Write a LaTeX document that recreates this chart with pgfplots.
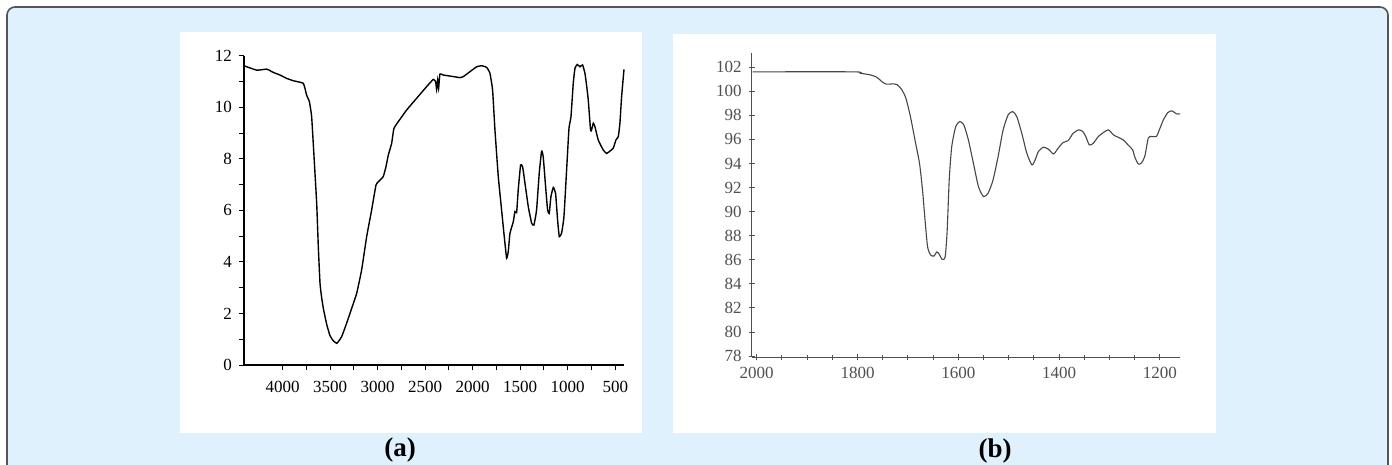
\documentclass[border=0pt]{standalone}
\usepackage{fontspec}
\setmainfont{Liberation Serif}
\usepackage{pgfplots}
\pgfplotsset{compat=1.18}

\definecolor{panelblue}{RGB}{223,241,252}
\definecolor{framegray}{RGB}{85,85,85}
\definecolor{curveb}{RGB}{70,70,70}
\definecolor{tickb}{RGB}{80,80,80}

\pgfplotstableread{
x y
4407 11.61
4274 11.44
4168 11.48
4133 11.42
4098 11.35
4028 11.25
3958 11.12
3888 11.03
3818 10.97
3783 10.93
3765 10.73
3748 10.47
3719 10.22
3695 9.63
3670 8.08
3642 6.27
3625 4.59
3607 3.17
3590 2.62
3572 2.20
3537 1.58
3502 1.14
3467 0.94
3432 0.84
3414 0.91
3379 1.10
3327 1.62
3256 2.39
3221 2.78
3169 3.69
3116 4.98
3064 6.01
3018 6.98
2993 7.11
2958 7.24
2941 7.31
2913 7.69
2888 8.15
2853 8.60
2829 9.18
2766 9.53
2696 9.89
2590 10.35
2485 10.80
2415 11.08
2390 10.99
2380 10.69
2369 11.05
2359 10.73
2345 11.29
2310 11.25
2204 11.19
2134 11.15
2099 11.19
2029 11.38
1959 11.57
1906 11.61
1854 11.55
1819 11.32
1791 10.67
1766 9.12
1731 7.31
1696 6.01
1668 4.98
1643 4.14
1626 4.40
1608 5.11
1573 5.56
1556 5.95
1538 5.91
1521 6.79
1496 7.76
1475 7.69
1450 7.05
1415 6.14
1380 5.50
1356 5.43
1328 6.01
1300 7.44
1275 8.30
1258 8.08
1233 6.92
1212 6.01
1195 5.88
1177 6.53
1152 6.89
1128 6.66
1107 5.63
1089 4.98
1065 5.11
1040 5.75
1012 7.56
987 9.18
966 9.63
942 10.93
924 11.51
900 11.66
872 11.57
844 11.64
819 11.32
802 10.86
784 10.28
760 9.12
749 9.12
731 9.38
714 9.25
679 8.73
626 8.34
591 8.21
556 8.30
521 8.41
493 8.73
468 8.86
451 9.38
433 10.41
408 11.47
}\spectrumA

\pgfplotstableread{
x y
2008 101.61
1808 101.61
1795 101.50
1775 101.36
1762 101.17
1752 100.81
1743 100.59
1729 100.61
1721 100.53
1712 100.12
1704 99.42
1695 97.90
1686 95.96
1677 94.02
1671 91.80
1666 89.31
1661 87.09
1655 86.40
1648 86.31
1643 86.65
1638 86.48
1632 86.04
1626 86.26
1622 88.47
1618 92.63
1613 95.40
1605 97.07
1597 97.48
1589 97.20
1580 95.96
1570 94.02
1560 92.08
1550 91.25
1541 91.52
1531 92.63
1521 94.57
1511 96.79
1501 98.04
1492 98.31
1484 97.90
1474 96.51
1464 94.85
1454 93.88
1448 94.24
1441 94.99
1431 95.35
1421 95.18
1411 94.79
1402 95.26
1392 95.74
1382 95.90
1372 96.51
1361 96.79
1353 96.65
1347 96.24
1340 95.54
1332 95.68
1322 96.24
1312 96.57
1302 96.79
1292 96.37
1283 96.18
1273 95.96
1263 95.54
1254 95.13
1250 94.57
1243 93.96
1237 94.02
1230 94.57
1223 96.10
1217 96.24
1207 96.24
1201 96.79
1193 97.62
1184 98.23
1176 98.37
1167 98.12
1160 98.12
}\spectrumB

\begin{document}
\begin{tikzpicture}
% layout in image pixels (1px = 0.5pt), y measured downwards
\begin{scope}[x=0.5pt,y=-0.5pt]
\path[use as bounding box] (0,0) rectangle (1392,465);
\begin{scope}
\clip (0,0) rectangle (1392,465);
\draw[framegray, line width=0.8pt, fill=panelblue, rounded corners=4pt] (7,7) rectangle (1388,490);
\end{scope}
\fill[white] (180,32) rectangle (642,433);
\fill[white] (673,34) rectangle (1216,433);
\node[font=\fontsize{13.5}{15}\selectfont\bfseries] at (400,450) {(a)};
\node[font=\fontsize{13.5}{15}\selectfont\bfseries] at (995,451) {(b)};
\end{scope}

% panel (a)
\begin{axis}[
at={(122pt,-182.5pt)}, anchor=south west,
scale only axis, width=190pt, height=154.65pt,
xmin=408, xmax=4407, ymin=0, ymax=12,
x dir=reverse,
axis x line*=bottom, axis y line*=left,
axis line style={-, line width=0.6pt},
xtick={500,1000,...,4000}, minor x tick num=1,
ytick={0,2,...,12}, minor y tick num=1,
tick align=outside, major tick length=2.5pt, minor tick length=2.5pt,
tick style={line width=0.5pt, black},
ticklabel style={font=\fontsize{8.5}{10}\selectfont},
xticklabel style={yshift=-2pt},
/pgf/number format/1000 sep={},
/pgf/number format/assume math mode=true,
clip=false,
]
\addplot[black, line width=0.7pt, smooth, tension=0.25] table[x=x, y=y] {\spectrumA};
\end{axis}

% panel (b)
\begin{axis}[
at={(375.85pt,-178.65pt)}, anchor=south west,
scale only axis, width=214.15pt, height=152.3pt,
xmin=1160, xmax=2010, ymin=77.9, ymax=103.2,
x dir=reverse,
axis x line*=bottom, axis y line*=left,
axis line style={-, line width=0.6pt, tickb},
xtick={1200,1400,...,2000}, minor x tick num=3,
ytick={78,80,...,102},
tick align=center, major tick length=3pt, minor tick length=2.5pt,
tick style={line width=0.5pt, tickb},
ticklabel style={font=\fontsize{8.5}{10}\selectfont, text=tickb},
/pgf/number format/1000 sep={},
/pgf/number format/assume math mode=true,
clip=false,
]
\addplot[curveb, line width=0.55pt, smooth, tension=0.4] table[x=x, y=y] {\spectrumB};
\end{axis}
\end{tikzpicture}
\end{document}
